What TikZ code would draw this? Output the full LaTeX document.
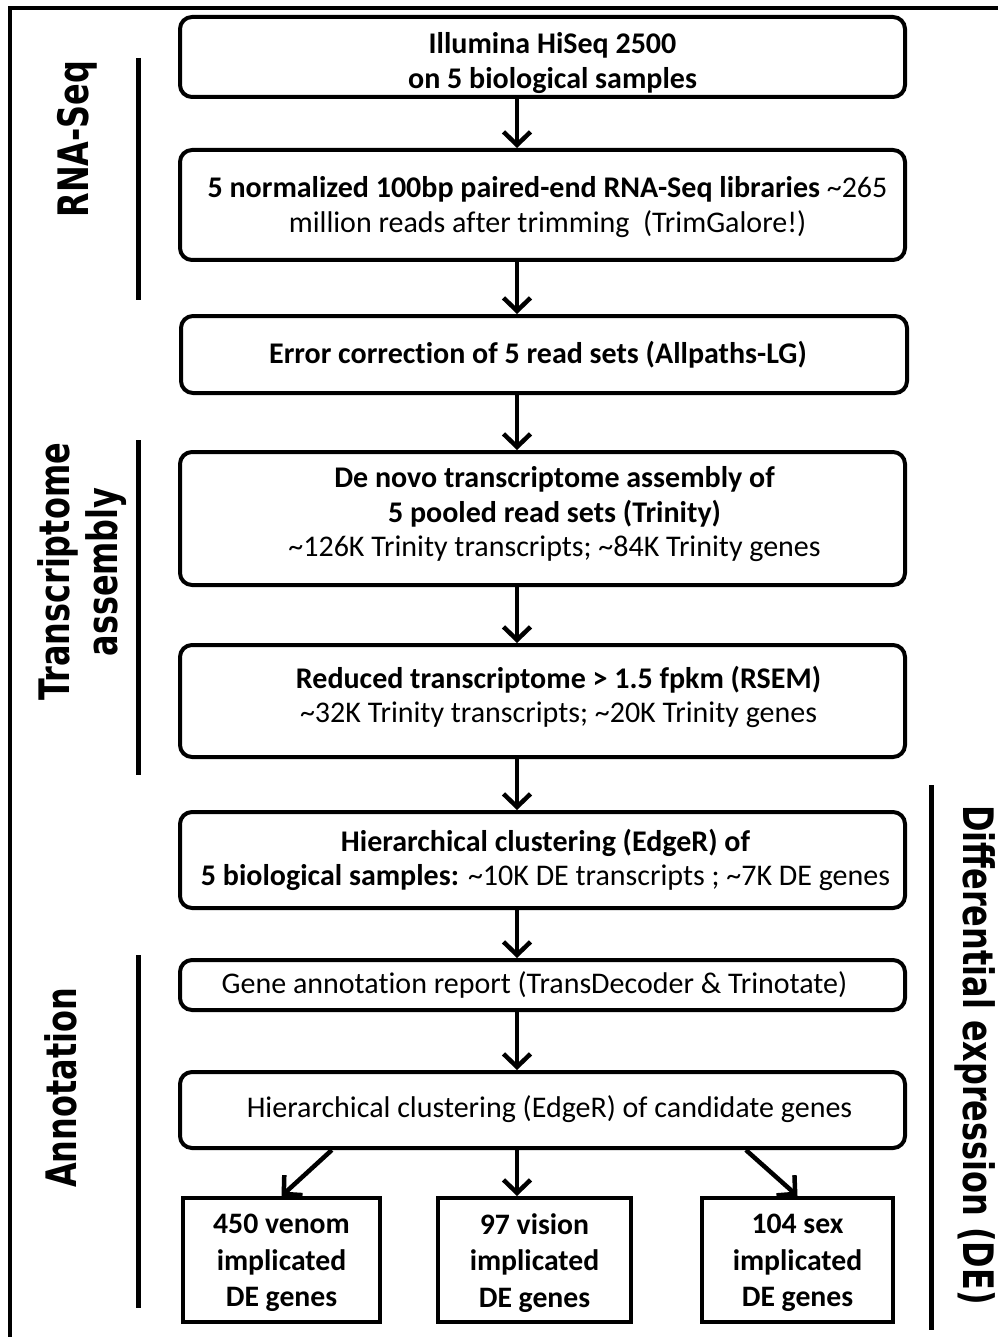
\documentclass[tikz,border=0pt]{standalone}
\usepackage{fontspec}
\setmainfont{Carlito}[Ligatures=NoCommon]
\newfontfamily\labfont{DejaVu Sans}
\usetikzlibrary{arrows.meta,calc}
\begin{document}
\begin{tikzpicture}[x=1pt,y=-1pt,
  box/.style={draw, line width=4pt, rounded corners=12pt, inner sep=0pt, minimum width=725pt},
  txt/.style={align=center, inner sep=0pt, font=\fontsize{30}{34.5}\selectfont},
  sbox/.style={draw, line width=4pt, inner sep=0pt, minimum height=124pt},
  stxt/.style={align=center, inner sep=0pt, font=\bfseries\fontsize{29.7}{36.5}\selectfont},
  arr/.style={line width=4.5pt, -{Straight Barb[length=13pt,width=27pt]}},
  bar/.style={line width=5pt},
  lab/.style={font=\labfont\bfseries\fontsize{42}{50}\selectfont, inner sep=0pt}
]
\useasboundingbox (0,0) rectangle (998,1337);
% outer frame
\draw[line width=4pt] (10,1337) -- (10,8) -- (998,8);

% main boxes
\node[box, minimum height=80pt] (b1) at (542.5,57) {};
\node[box, minimum height=110pt] (b2) at (542.5,205) {};
\node[box, minimum height=77pt, minimum width=726pt] (b3) at (544,354.5) {};
\node[box, minimum height=133pt] (b4) at (542.5,518.5) {};
\node[box, minimum height=112pt] (b5) at (542.5,701) {};
\node[box, minimum height=96pt] (b6) at (542.5,860) {};
\node[box, minimum height=50pt] (b7) at (542.5,985) {};
\node[box, minimum height=76pt] (b8) at (542.5,1110) {};

% box texts
\node[txt] (t1) at ($(b1.center)+(10,6)$)
  {\textbf{Illumina HiSeq 2500}\\\textbf{on 5 biological samples}};
\node[txt] (t2) at ($(b2.center)+(5,2)$)
  {\textbf{5 normalized 100bp paired-end RNA-Seq libraries} \textasciitilde265\\million reads after trimming\ \ (TrimGalore!)};
\node[txt] (t3) at ($(b3.center)+(-6,0)$)
  {\textbf{Error correction of 5 read sets (Allpaths-LG)}};
\node[txt] (t4) at ($(b4.center)+(12,-4)$)
  {\textbf{De novo transcriptome assembly of}\\\textbf{5 pooled read sets (Trinity)}\\\textasciitilde126K Trinity transcripts; \textasciitilde84K Trinity genes};
\node[txt] (t5) at ($(b5.center)+(16,-4)$)
  {\textbf{Reduced transcriptome > 1.5 fpkm (RSEM)}\\\textasciitilde32K Trinity transcripts; \textasciitilde20K Trinity genes};
\node[txt] (t6) at ($(b6.center)+(3,0)$)
  {\textbf{Hierarchical clustering (EdgeR) of}\\\textbf{5 biological samples:} \textasciitilde10K DE transcripts ; \textasciitilde7K DE genes};
\node[txt] (t7) at ($(b7.center)+(-8,0)$)
  {Gene annotation report (TransDecoder \& Trinotate)};
\node[txt] (t8) at ($(b8.center)+(7,-1)$)
  {Hierarchical clustering (EdgeR) of candidate genes};

% small boxes
\node[sbox, minimum width=197pt] (s1) at (281.5,1260) {};
\node[sbox, minimum width=193pt] (s2) at (534.5,1260) {};
\node[sbox, minimum width=191pt] (s3) at (797.5,1260) {};
\node[stxt] (u1) at ($(s1.center)+(0,3)$) {450 venom\\implicated\\DE genes};
\node[stxt] (u2) at ($(s2.center)+(0,3)$) {97 vision\\implicated\\DE genes};
\node[stxt] (u3) at ($(s3.center)+(0,3)$) {104 sex\\implicated\\DE genes};

% arrows
\coordinate (ax) at (517,0);
\draw[arr] (b1.south -| ax) -- (b2.north -| ax);
\draw[arr] (b2.south -| ax) -- (b3.north -| ax);
\draw[arr] (b3.south -| ax) -- (b4.north -| ax);
\draw[arr] (b4.south -| ax) -- (b5.north -| ax);
\draw[arr] (b5.south -| ax) -- (b6.north -| ax);
\draw[arr] (b6.south -| ax) -- (b7.north -| ax);
\draw[arr] (b7.south -| ax) -- (b8.north -| ax);
\draw[arr] ($(b8.south west)!0.211!(b8.south east)$) -- (s1.north);
\draw[arr] (b8.south -| ax) -- (s2.north -| ax);
\draw[arr] ($(b8.south west)!0.779!(b8.south east)$) -- (s3.north);

% section bars
\draw[bar] (138,58) -- (138,300);
\draw[bar] (138,440) -- (138,775);
\draw[bar] (138,955) -- (138,1308);
\draw[bar] (931,785) -- (931,1330);

% section labels
\node[lab, rotate=90, anchor=base] (lrna) at (88,139) {\scalebox{0.76}[1]{RNA-Seq}};
\node[lab, rotate=90, anchor=base] (ltr1) at (69,572) {\scalebox{0.76}[1]{Transcriptome}};
\node[lab, rotate=90, anchor=base] (ltr2) at (117,572) {\scalebox{0.76}[1]{assembly}};
\node[lab, rotate=90, anchor=base] (lann) at (76,1088) {\scalebox{0.76}[1]{Annotation}};
\node[lab, rotate=-90, anchor=base] (lde) at (963,1055) {\scalebox{0.76}[1]{Differential expression (DE)}};
\end{tikzpicture}
\end{document}
